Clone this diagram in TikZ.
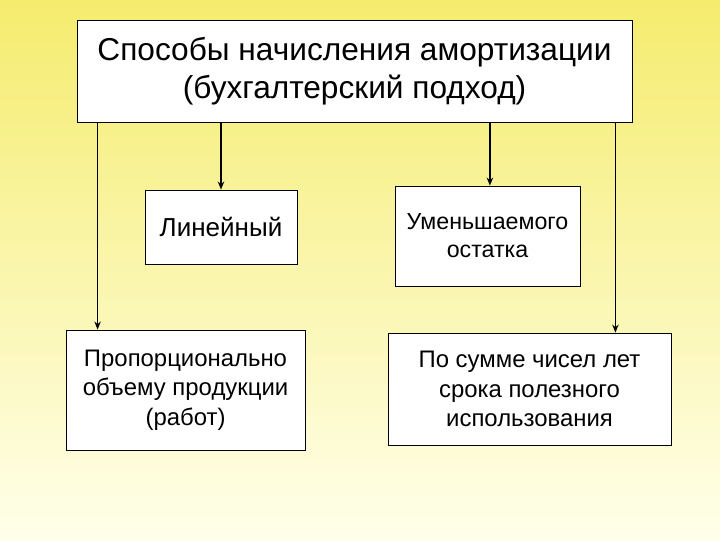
\documentclass[tikz,border=0pt]{standalone}
\usepackage{fontspec}
\setmainfont{Liberation Sans}
\usetikzlibrary{arrows.meta}

\tikzset{
  box/.style={draw=black, fill=white, line width=0.6pt, inner sep=0pt, align=center},
  arr/.style={black, line width=1.3pt, -{Stealth[length=2mm, width=1.6mm]}}
}

\begin{document}
\begin{tikzpicture}[x=0.025cm, y=-0.025cm]

\shade[top color={rgb,255:red,245;green,236;blue,110}, bottom color={rgb,255:red,255;green,255;blue,235}] (0,0) rectangle (720,540);
\useasboundingbox (0,0) rectangle (720,540);

\node[box, minimum width=555*0.025cm, minimum height=102*0.025cm, font=\fontsize{22.5}{27}\selectfont] (top) at (354.5,71) {Способы начисления амортизации\\(бухгалтерский подход)};
\node[box, minimum width=152*0.025cm, minimum height=74*0.025cm, font=\fontsize{18.5}{22}\selectfont] (lin) at (221,227) {Линейный};
\node[box, minimum width=185*0.025cm, minimum height=100*0.025cm, font=\fontsize{16.5}{20}\selectfont] (ost) at (487.5,236) {Уменьшаемого\\остатка};
\node[box, minimum width=239*0.025cm, minimum height=120*0.025cm, font=\fontsize{17}{21}\selectfont] (prop) at (185.5,390) {Пропорционально\\объему продукции\\(работ)};
\node[box, minimum width=283*0.025cm, minimum height=112*0.025cm, font=\fontsize{17}{21}\selectfont] (sum) at (529.5,389) {По сумме чисел лет\\срока полезного\\использования};

\draw[arr] ([xshift=0.525cm]top.south west) -- ([xshift=0.525cm]top.south west |- prop.north);
\draw[arr] (top.south -| lin.north) -- (lin.north);
\draw[arr] ([xshift=0.06cm]top.south -| ost.north) -- ([xshift=0.06cm]ost.north);
\draw[arr] ([xshift=-0.425cm]top.south east) -- ([xshift=-0.425cm]top.south east |- sum.north);

\end{tikzpicture}
\end{document}
